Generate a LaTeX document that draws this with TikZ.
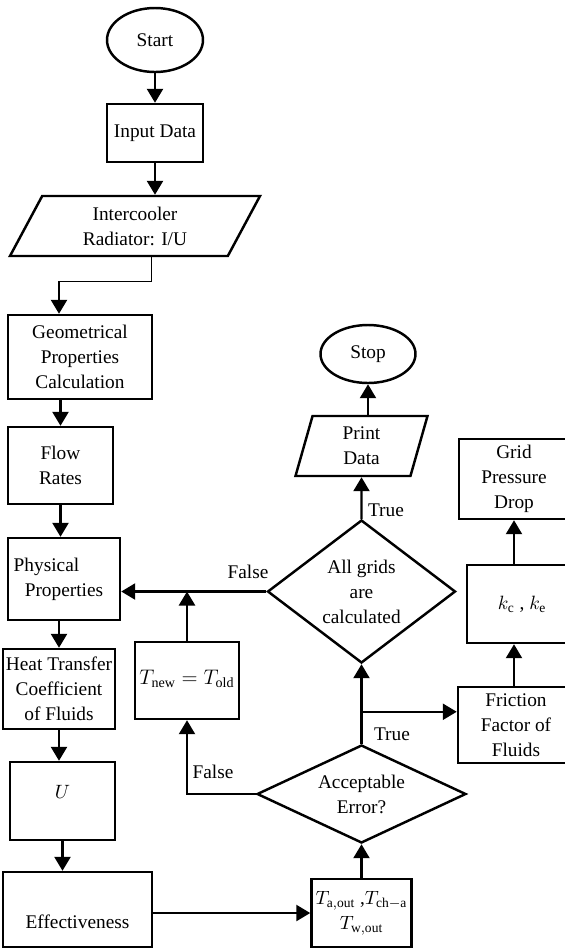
\documentclass[tikz,border=0pt]{standalone}
\usepackage{fontspec}
\setmainfont{Liberation Serif}
\usepackage{amsmath}
\usetikzlibrary{shapes,arrows.meta,positioning}
\newcommand{\Tsub}[1]{T_{\mathrm{#1}}}

\begin{document}
\begin{tikzpicture}[font=\fontsize{11}{14.2}\selectfont]

\tikzstyle{block} = [draw, rectangle, line width=1.4pt, align=center, inner sep=0pt]
\tikzstyle{terminal} = [draw, ellipse, line width=1.4pt, align=center, inner sep=0pt]
\tikzstyle{inout} = [draw, trapezium, trapezium stretches body, line width=1.4pt, align=center, inner sep=0pt]
\tikzstyle{decision} = [draw, diamond, line width=1.4pt, align=center, inner sep=0pt]
\tikzstyle{arrow} = [line width=1.4pt, -{Triangle[length=0.28cm,width=0.32cm]}]
\tikzstyle{thinline} = [line width=0.5pt]

\useasboundingbox (0,0) rectangle (11.3,-18.98);

\coordinate (anchor) at (0,0);

%Input chain: top left

\path (anchor)+(3.10,-0.80) node (start) [terminal, minimum width=1.92cm, minimum height=1.28cm] {Start};

\path (anchor)+(3.10,-2.66) node (input) [block, minimum width=1.92cm, minimum height=1.16cm] {Input Data};

\path (anchor)+(2.70,-4.52) node (radiator) [inout, minimum width=5cm, minimum height=1.2cm,
  trapezium left angle=50.2, trapezium right angle=129.8] {Intercooler\\Radiator: I/U};

%Calculation chain: left column

\path (anchor)+(1.60,-7.14) node (geom) [block, minimum width=2.88cm, minimum height=1.68cm] {Geometrical\\Properties\\Calculation};

\path (anchor)+(1.21,-9.31) node (flow) [block, minimum width=2.10cm, minimum height=1.54cm] {Flow\\Rates};

\path (anchor)+(1.28,-11.58) node (phys) [block, minimum width=2.24cm, minimum height=1.64cm] {Physical\hspace*{0.7cm}\\Properties};

\path (anchor)+(1.18,-13.78) node (heat) [block, minimum width=2.24cm, minimum height=1.60cm] {Heat Transfer\\Coefficient\\of Fluids};

\path (anchor)+(1.25,-16.02) node (ubox) [block, minimum width=2.10cm, minimum height=1.56cm, text depth=0.35cm] {$U$};

\path (anchor)+(1.55,-18.19) node (eff) [block, minimum width=2.98cm, minimum height=1.50cm, text height=0.76cm] {Effectiveness};

%Check loop: middle

\path (anchor)+(7.23,-18.26) node (tout) [block, minimum width=2.00cm, minimum height=1.36cm] {$\Tsub{a,out}$ ,$\Tsub{ch-a}$\\$\Tsub{w,out}$};

\path (anchor)+(7.23,-15.88) node (accept) [decision, aspect=2.13, minimum width=4.18cm, minimum height=1.96cm] {Acceptable\\Error?};

\path (anchor)+(3.74,-13.61) node (tnew) [block, minimum width=2.08cm, minimum height=1.54cm, text depth=0.12cm, font=\fontsize{12}{14.2}\selectfont] {$T_{\mathrm{new}} = T_{\mathrm{old}}$};

\path (anchor)+(7.23,-11.83) node (grids) [decision, aspect=1.31, minimum width=3.76cm, minimum height=2.86cm] {All grids\\are\\calculated};

\path (anchor)+(7.23,-8.92) node (print) [inout, minimum width=2.64cm, minimum height=1.2cm,
  trapezium left angle=65.8, trapezium right angle=114.2] {Print\\Data};

\path (anchor)+(7.36,-7.08) node (stop) [terminal, minimum width=1.90cm, minimum height=1.16cm] {Stop};

%Pressure drop: right column

\path (anchor)+(10.32,-14.50) node (friction) [block, minimum width=2.32cm, minimum height=1.52cm] {Friction\\Factor of\\Fluids};

\path (anchor)+(10.44,-12.08) node (kbox) [block, minimum width=2.20cm, minimum height=1.56cm] {$k_{\mathrm{c}}$ , $k_{\mathrm{e}}$};

\path (anchor)+(10.28,-9.58) node (grid) [block, minimum width=2.20cm, minimum height=1.60cm] {Grid\\Pressure\\Drop};

%Labels

\path (anchor)+(4.96,-11.44) node (lbl_false_a) {False};
\path (anchor)+(7.72,-10.20) node (lbl_true_a) {True};
\path (anchor)+(7.84,-14.68) node (lbl_true_b) {True};
\path (anchor)+(4.26,-15.44) node (lbl_false_b) {False};

%Arrows

\draw [arrow] (start.south) -- (input.north);
\draw [arrow] (input.south) -- (input.south |- radiator.north);

\path (radiator.south)+(0.32,0) coordinate (radiator_out);
\path (radiator_out)+(0,-0.48) coordinate (bend_a);
\path (geom.north)+(-0.42,0) coordinate (geom_in);
\draw [thinline] (radiator_out) -- (bend_a) -- (bend_a -| geom_in);
\draw [arrow] (bend_a -| geom_in) -- (geom_in);

\draw [arrow] (geom.south -| flow.north) -- (flow.north);
\draw [arrow] (flow.south) -- (flow.south |- phys.north);
\draw [arrow] (heat.north |- phys.south) -- (heat.north);
\draw [arrow] (heat.south) -- (heat.south |- ubox.north);
\draw [arrow] (ubox.south) -- (ubox.south |- eff.north);
\draw [arrow] (eff.east |- tout.west) -- (tout.west);

\draw [arrow] (tout.north) -- (accept.south);
\draw [arrow] (accept.north) -- (grids.south);
\path (accept.north)+(0,0.64) coordinate (true_split);
\draw [arrow] (true_split) -- (true_split -| friction.west);
\draw [arrow] (accept.west) -| (tnew.south);

\draw [arrow] (tnew.north) -- (tnew.north |- grids.west);
\draw [arrow] (grids.west) -- (grids.west -| phys.east);
\draw [arrow] (grids.north) -- (print.south);
\draw [arrow] (print.north -| stop.south) -- (stop.south);

\draw [arrow] (friction.north -| grid.south) -- (kbox.south -| grid.south);
\draw [arrow] (kbox.north -| grid.south) -- (grid.south);

\end{tikzpicture}
\end{document}
